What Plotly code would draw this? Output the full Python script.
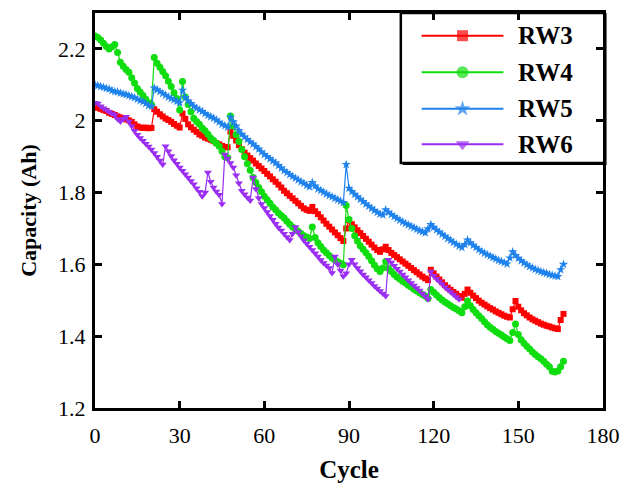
import plotly.graph_objects as go

# Discharge capacity per cycle for four cells
rw3 = [
    2.040, 2.036, 2.033, 2.030, 2.027, 2.022, 2.019, 2.016, 2.012, 2.009,
    2.007, 2.004, 2.001, 1.997, 1.990, 1.984, 1.981, 1.980, 1.981, 1.979,
    1.980, 2.032, 2.025, 2.018, 2.012, 2.006, 2.002, 1.997, 1.991, 1.986,
    1.981, 2.020, 2.005, 1.990, 1.982, 1.975, 1.969, 1.962, 1.958, 1.953,
    1.950, 1.947, 1.943, 1.938, 1.934, 1.930, 1.927, 1.926, 1.970, 1.958,
    1.945, 1.932, 1.921, 1.911, 1.903, 1.896, 1.889, 1.881, 1.874, 1.867,
    1.860, 1.852, 1.845, 1.837, 1.830, 1.822, 1.814, 1.805, 1.798, 1.791,
    1.784, 1.777, 1.770, 1.763, 1.756, 1.752, 1.749, 1.760, 1.748, 1.740,
    1.731, 1.722, 1.713, 1.705, 1.697, 1.689, 1.681, 1.673, 1.665, 1.700,
    1.723, 1.712, 1.703, 1.695, 1.687, 1.679, 1.671, 1.663, 1.655, 1.647,
    1.640, 1.635, 1.642, 1.649, 1.640, 1.632, 1.626, 1.620, 1.614, 1.608,
    1.602, 1.596, 1.590, 1.584, 1.578, 1.572, 1.566, 1.561, 1.556, 1.585,
    1.575, 1.566, 1.558, 1.550, 1.542, 1.535, 1.529, 1.523, 1.518, 1.512,
    1.507, 1.518, 1.530, 1.521, 1.513, 1.506, 1.499, 1.493, 1.488, 1.483,
    1.478, 1.474, 1.469, 1.465, 1.461, 1.457, 1.454, 1.452, 1.475, 1.498,
    1.482, 1.472, 1.464, 1.458, 1.452, 1.447, 1.443, 1.439, 1.435, 1.432,
    1.429, 1.427, 1.424, 1.422, 1.420, 1.445, 1.462,
]

rw4 = [
    2.236, 2.232, 2.225, 2.216, 2.207, 2.200, 2.206, 2.212, 2.190, 2.163,
    2.152, 2.143, 2.135, 2.120, 2.105, 2.090, 2.080, 2.070, 2.060, 2.050,
    2.045, 2.176, 2.160, 2.149, 2.137, 2.125, 2.110, 2.095, 2.078, 2.062,
    2.030, 2.109, 2.066, 2.045, 2.025, 2.007, 1.998, 1.990, 1.980, 1.972,
    1.962, 1.952, 1.945, 1.937, 1.929, 1.915, 1.900, 1.897, 2.013, 1.985,
    1.961, 1.942, 1.920, 1.900, 1.880, 1.862, 1.842, 1.828, 1.814, 1.802,
    1.790, 1.780, 1.770, 1.760, 1.752, 1.743, 1.736, 1.729, 1.720, 1.712,
    1.704, 1.698, 1.692, 1.686, 1.680, 1.676, 1.672, 1.704, 1.675, 1.660,
    1.650, 1.640, 1.632, 1.625, 1.618, 1.612, 1.607, 1.603, 1.599, 1.764,
    1.725, 1.700, 1.680, 1.665, 1.652, 1.642, 1.632, 1.622, 1.610, 1.598,
    1.588, 1.580, 1.590, 1.608, 1.590, 1.580, 1.572, 1.565, 1.559, 1.553,
    1.548, 1.542, 1.537, 1.531, 1.526, 1.521, 1.516, 1.512, 1.505, 1.530,
    1.522, 1.515, 1.508, 1.501, 1.495, 1.490, 1.485, 1.480, 1.476, 1.471,
    1.465, 1.482, 1.498, 1.485, 1.474, 1.465, 1.457, 1.449, 1.440, 1.432,
    1.425, 1.419, 1.413, 1.408, 1.403, 1.398, 1.393, 1.388, 1.410, 1.434,
    1.405, 1.390, 1.380, 1.372, 1.364, 1.356, 1.349, 1.343, 1.337, 1.330,
    1.322, 1.315, 1.302, 1.300, 1.303, 1.315, 1.330,
]

rw5 = [
    2.100, 2.098, 2.095, 2.093, 2.090, 2.088, 2.084, 2.081, 2.080, 2.077,
    2.075, 2.073, 2.070, 2.067, 2.064, 2.060, 2.056, 2.053, 2.048, 2.042,
    2.040, 2.091, 2.086, 2.081, 2.076, 2.071, 2.066, 2.062, 2.058, 2.054,
    2.050, 2.085, 2.065, 2.055, 2.048, 2.040, 2.035, 2.030, 2.026, 2.020,
    2.015, 2.011, 2.007, 2.002, 1.996, 1.990, 1.986, 1.982, 2.010, 1.997,
    1.985, 1.973, 1.962, 1.955, 1.948, 1.941, 1.935, 1.928, 1.921, 1.913,
    1.906, 1.900, 1.894, 1.888, 1.882, 1.875, 1.868, 1.861, 1.856, 1.850,
    1.845, 1.840, 1.835, 1.830, 1.826, 1.820, 1.816, 1.828, 1.818, 1.810,
    1.806, 1.801, 1.796, 1.792, 1.788, 1.784, 1.780, 1.776, 1.772, 1.878,
    1.812, 1.803, 1.795, 1.788, 1.781, 1.775, 1.768, 1.762, 1.756, 1.750,
    1.745, 1.740, 1.738, 1.752, 1.745, 1.739, 1.733, 1.728, 1.723, 1.718,
    1.714, 1.710, 1.706, 1.702, 1.698, 1.694, 1.691, 1.688, 1.699, 1.711,
    1.703, 1.696, 1.690, 1.684, 1.678, 1.672, 1.667, 1.661, 1.656, 1.651,
    1.647, 1.655, 1.668, 1.660, 1.653, 1.647, 1.641, 1.636, 1.631, 1.627,
    1.623, 1.619, 1.615, 1.611, 1.608, 1.605, 1.601, 1.618, 1.635, 1.625,
    1.617, 1.610, 1.604, 1.599, 1.594, 1.590, 1.586, 1.583, 1.580, 1.577,
    1.575, 1.572, 1.570, 1.568, 1.566, 1.585, 1.600,
]

rw6 = [
    2.050, 2.048, 2.040, 2.035, 2.030, 2.025, 2.020, 2.016, 2.005, 1.998,
    2.005, 2.011, 1.998, 1.985, 1.972, 1.961, 1.952, 1.944, 1.936, 1.928,
    1.920, 1.910, 1.900, 1.889, 1.878, 1.929, 1.915, 1.902, 1.890, 1.880,
    1.870, 1.861, 1.851, 1.842, 1.832, 1.823, 1.812, 1.802, 1.790, 1.800,
    1.856, 1.830, 1.814, 1.803, 1.794, 1.768, 1.906, 1.895, 1.882, 1.870,
    1.848, 1.826, 1.805, 1.795, 1.786, 1.778, 1.842, 1.810, 1.785, 1.768,
    1.757, 1.746, 1.735, 1.724, 1.713, 1.703, 1.694, 1.685, 1.676, 1.668,
    1.685, 1.704, 1.690, 1.678, 1.667, 1.658, 1.649, 1.640, 1.631, 1.622,
    1.612, 1.604, 1.597, 1.590, 1.576, 1.622, 1.600, 1.583, 1.567, 1.575,
    1.600, 1.613, 1.600, 1.590, 1.581, 1.572, 1.564, 1.556, 1.548, 1.540,
    1.533, 1.526, 1.519, 1.512, 1.613, 1.605, 1.596, 1.588, 1.580, 1.572,
    1.564, 1.556, 1.548, 1.541, 1.534, 1.527, 1.519, 1.511, 1.503, 1.580,
    1.568, 1.560, 1.553, 1.545, 1.537, 1.530, 1.523, 1.516, 1.509, 1.503,
]

names = ["RW3", "RW4", "RW5", "RW6"]
colors = ["#FF0000", "#10DD10", "#1F82EC", "#9A2EF2"]
symbols = ["square", "circle", "star", "triangle-down"]
sizes = [6, 7, 7, 7]
series = [rw3, rw4, rw5, rw6]

x_ticks = [0, 30, 60, 90, 120, 150, 180]
y_ticks = [1.2, 1.4, 1.6, 1.8, 2.0, 2.2]

SERIF = "Liberation Serif"

fig = go.Figure()
for name, ys, c, s, sz in zip(names, series, colors, symbols, sizes):
    fig.add_trace(go.Scatter(
        x=list(range(len(ys))), y=ys, name=name, mode="lines+markers",
        line=dict(color=c, width=1.2),
        marker=dict(symbol=s, size=sz, color=c, line=dict(width=0)),
        showlegend=False,
    ))

# Boxed legend in the upper-right corner, keyed on an overlay axis (0..1)
leg_x0, leg_x1, leg_y0, leg_y1 = 0.602, 1.003, 0.62, 1.0
row_y = [0.9425, 0.85, 0.7575, 0.6675]
line_x0, line_x1, mark_x, text_x = 0.643, 0.804, 0.7235, 0.829

shapes = [
    # shadow edge then framed white box
    dict(type="rect", xref="paper", yref="paper", x0=leg_x0 + 0.004, x1=leg_x1 + 0.004,
         y0=leg_y0 - 0.005, y1=leg_y1, fillcolor="black", line=dict(width=0), layer="below"),
    dict(type="rect", xref="paper", yref="paper", x0=leg_x0, x1=leg_x1,
         y0=leg_y0, y1=leg_y1, fillcolor="white", line=dict(color="black", width=2.5), layer="below"),
]
annotations = []
for name, c, ry in zip(names, colors, row_y):
    shapes.append(dict(type="line", xref="paper", yref="paper", x0=line_x0, x1=line_x1,
                       y0=ry, y1=ry, line=dict(color=c, width=2), layer="below"))
    annotations.append(dict(x=text_x, y=ry, xref="paper", yref="paper", text="<b>%s</b>" % name,
                            showarrow=False, xanchor="left", yanchor="middle",
                            font=dict(family=SERIF, size=25, color="black")))

fig.add_trace(go.Scatter(
    x=[mark_x] * 4, y=row_y, xaxis="x2", yaxis="y2", mode="markers",
    marker=dict(symbol=symbols, size=[11, 12, 12, 12], color=colors, line=dict(width=0)),
    showlegend=False, hoverinfo="skip",
))

axis_common = dict(
    showline=True, linecolor="black", linewidth=3, mirror="ticks",
    ticks="inside", ticklen=7, tickwidth=3, tickcolor="black",
    showgrid=False, zeroline=False,
    tickfont=dict(family=SERIF, size=22, color="black"),
)

fig.update_layout(
    width=630, height=490,
    margin=dict(l=95, r=25, t=10, b=80),
    paper_bgcolor="white", plot_bgcolor="white",
    xaxis=dict(range=[0, 180], tickvals=x_ticks, ticktext=[str(v) for v in x_ticks],
               ticklabelstandoff=6,
               title=dict(text="<b>Cycle</b>", font=dict(family=SERIF, size=25, color="black"),
                          standoff=14),
               **axis_common),
    yaxis=dict(range=[1.2, 2.3], tickvals=y_ticks, ticktext=["1.2", "1.4", "1.6", "1.8", "2", "2.2"],
               ticklabelstandoff=2,
               title=dict(text="<b>Capacity (Ah)</b>", font=dict(family=SERIF, size=22, color="black"),
                          standoff=16),
               **axis_common),
    xaxis2=dict(range=[0, 1], overlaying="x", visible=False, fixedrange=True),
    yaxis2=dict(range=[0, 1], overlaying="y", visible=False, fixedrange=True),
    shapes=shapes,
    annotations=annotations,
)

fig.write_html("out.html")
